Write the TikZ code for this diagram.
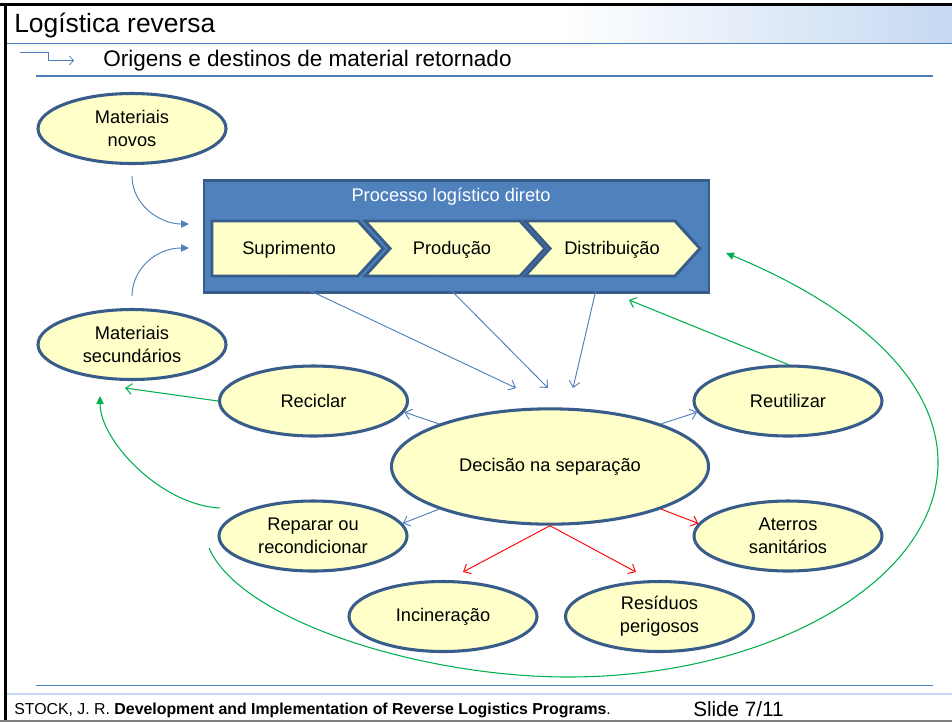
\documentclass[tikz,border=0pt]{standalone}
\usepackage{fontspec}
\setmainfont{Liberation Sans}
\usetikzlibrary{arrows.meta,shapes.geometric}
\definecolor{bord}{HTML}{385D8A}
\definecolor{boxb}{HTML}{4F81BD}
\definecolor{yel}{HTML}{FFFFC9}
\definecolor{grn}{HTML}{00B050}
\definecolor{hdr}{HTML}{4A7EBB}
\definecolor{titlebg}{HTML}{C6D9F1}
\begin{document}
\begin{tikzpicture}[x=0.75pt,y=-0.75pt,
  ell/.style={ellipse, draw=bord, line width=2.3pt, fill=yel, minimum width=141pt, minimum height=52.5pt, inner sep=0pt, align=center, font=\fontsize{13.7}{17.2}\selectfont},
  chev/.style={draw=bord, fill=yel, line width=2.2pt, line join=miter},
  txt/.style={inner sep=0pt, font=\fontsize{13.7}{17.2}\selectfont},
  openarr/.style={-{Straight Barb[length=4.5pt,width=8pt]}},
  fillarr/.style={-{Triangle[length=6pt,width=5.5pt]}},
  bl/.style={draw=boxb, line width=0.7pt},
  rd/.style={draw=red, line width=0.7pt},
  gr/.style={draw=grn, line width=0.8pt}]
\path[use as bounding box] (0,0) rectangle (952,722);
\fill[white] (0,0) rectangle (952,722);
% header
\shade[left color=white,right color=titlebg] (560,6) rectangle (952,43);
\draw[black,line width=2.5pt] (0,4.5) -- (952,4.5);
\draw[black,line width=2.2pt] (5.5,3) -- (5.5,722);
\draw[hdr,line width=1pt] (7,43.5) -- (952,43.5);
\node[anchor=base west, inner sep=0pt, font=\fontsize{19.8}{22}\selectfont] (title) at (14,32) {Logística reversa};
\coordinate (ic1) at (20,52.5);
\coordinate (ic2) at (74,60.5);
\draw[hdr,line width=0.6pt,-{Straight Barb[length=3pt,width=6.5pt]}] (ic1) -- (48,52.5) -- (48,60.5) -- (ic2);
\node[anchor=base west, inner sep=0pt, font=\fontsize{16.9}{20}\selectfont] (sub) at (103,66) {Origens e destinos de material retornado};
\draw[hdr,line width=0.9pt] (36,76) -- (933,76);
% footer
\draw[hdr,line width=0.9pt] (36,685.5) -- (933,685.5);
\draw[titlebg,line width=1pt] (7,694) -- (952,694);
\draw[gray,line width=0.8pt] (0,721) -- (952,721);
\node[anchor=base west, inner sep=0pt, font=\fontsize{11.9}{14}\selectfont] (ref) at (14,714) {STOCK, J. R. \textbf{Development and Implementation of Reverse Logistics Programs}.};
\node[anchor=base west, inner sep=0pt, font=\fontsize{15.5}{18}\selectfont] (slide) at (693,716) {Slide 7/11};
% process box
\node[draw=bord, fill=boxb, line width=2pt, minimum width=378.75pt, minimum height=84pt, inner sep=0pt] (box) at (456.5,236.5) {};
\node[txt, text=white] (ptitle) at (451,197) {Processo logístico direto};
\draw[chev] (212,221) -- (358,221) -- (383,248.5) -- (358,276) -- (212,276) -- cycle;
\draw[chev] (365,221) -- (520,221) -- (545,248.5) -- (520,276) -- (365,276) -- (390,248.5) -- cycle;
\draw[chev] (525,221) -- (675,221) -- (700,248.5) -- (675,276) -- (525,276) -- (550,248.5) -- cycle;
\node[txt] (sup) at (289,250) {Suprimento};
\node[txt] (pro) at (452,250) {Produção};
\node[txt] (dis) at (612,250) {Distribuição};
% ellipses
\node[ell] (mn) at (132,128.5) {Materiais\\novos};
\node[ell] (sec) at (132,344.5) {Materiais\\secundários};
\node[ell] (rec) at (313.5,401) {Reciclar};
\node[ell] (reu) at (788,401) {Reutilizar};
\node[ell, minimum width=237.75pt, minimum height=86.5pt] (dec) at (550,466.5) {Decisão na separação};
\node[ell] (rep) at (313,536) {Reparar ou\\recondicionar};
\node[ell] (ate) at (788,536) {Aterros\\sanitários};
\node[ell] (inc) at (443,616.5) {Incineração};
\node[ell] (res) at (659.5,616.5) {Resíduos\\perigosos};
% coordinates
\coordinate (mnOut) at (132,176);
\coordinate (boxIn1) at (189,224);
\coordinate (secOut) at (132,296);
\coordinate (boxIn2) at (189,248);
\coordinate (c1) at (281,277);
\coordinate (c2) at (438,277);
\coordinate (c3) at (599,277);
\coordinate (t1) at (516,388);
\coordinate (t2) at (548,388);
\coordinate (t3) at (573,388);
\coordinate (incIn) at (463,572);
\coordinate (resIn) at (636,572);
\coordinate (secIn) at (125,388);
\coordinate (secIn2) at (100,396);
\coordinate (repOut) at (220,508);
\coordinate (repOut2) at (209,548);
\coordinate (boxIn3) at (629,300);
\coordinate (boxIn4) at (726,253);
% blue connectors
\draw[bl,fillarr] (mnOut) .. controls (132,205) and (160,224) .. (boxIn1);
\draw[bl,fillarr] (secOut) .. controls (132,270) and (155,248) .. (boxIn2);
\draw[bl,openarr] (c1) -- (t1);
\draw[bl,openarr] (c2) -- (t2);
\draw[bl,openarr] (c3) -- (t3);
\draw[bl,openarr] (dec.159) -- (rec.-7);
\draw[bl,openarr] (dec.21) -- (reu.187);
\draw[bl,openarr] (dec.201) -- (rep.8);
% red connectors
\draw[rd,openarr] (dec.-21) -- (ate.172);
\draw[rd,openarr] (dec.south) -- (incIn);
\draw[rd,openarr] (dec.south) -- (resIn);
% green connectors
\draw[gr,openarr] (rec.west) -- (secIn);
\draw[gr,openarr] (reu.north) -- (boxIn3);
\draw[gr,fillarr] (repOut) .. controls (160,505) and (100,440) .. (secIn2);
\draw[gr,fillarr] (repOut2) .. controls (240,620) and (420,677) .. (568,677)
   .. controls (770,677) and (940,580) .. (938,460)
   .. controls (936,370) and (840,300) .. (boxIn4);
\end{tikzpicture}
\end{document}
